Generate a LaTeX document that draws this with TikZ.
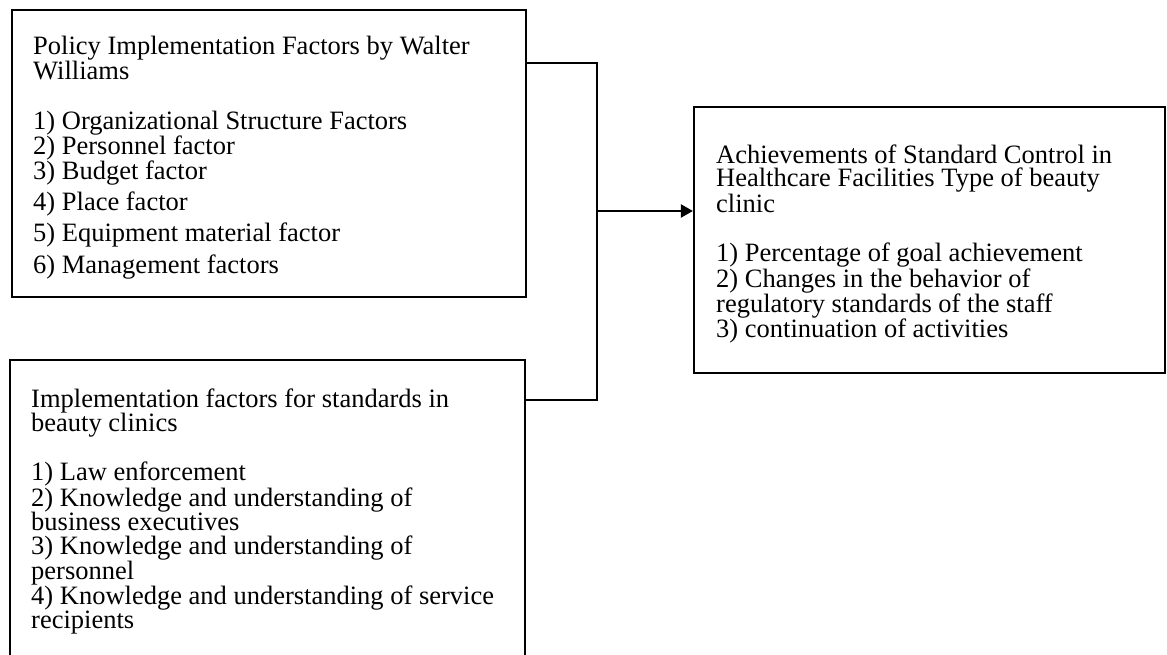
\documentclass[tikz,border=0pt]{standalone}
\usepackage{fontspec}
\setmainfont{Liberation Serif}
\usetikzlibrary{arrows.meta}
\tikzset{
  box/.style={draw=black, line width=2.2pt, rectangle, inner sep=0pt},
  boxtext/.style={anchor=north west, align=left, inner sep=0pt},
  conn/.style={draw=black, line width=2.2pt},
  arrowconn/.style={conn, -{Triangle[length=12pt,width=13pt]}}
}
\begin{document}
\begin{tikzpicture}[x=1pt,y=-1pt]
\useasboundingbox (0,0) rectangle (1167,655);
\clip (0,0) rectangle (1167,655);
% boxes
\node[box, minimum width=514pt, minimum height=287pt] (b1) at (269,153.5) {};
\node[box, minimum width=515pt, minimum height=340pt] (b2) at (267.5,530) {};
\node[box, minimum width=471pt, minimum height=266pt] (b3) at (929.5,240) {};
% texts
\node[boxtext, font={\fontsize{26.5}{24}\selectfont}] (t1) at (33,34) {\rule{0pt}{20pt}Policy Implementation Factors by Walter\\
Williams\\[26pt]
1) Organizational Structure Factors\\
2) Personnel factor\\
3) Budget factor\\[5pt]
4) Place factor\\[6pt]
5) Equipment material factor\\[7pt]
6) Management factors};
\node[boxtext, font={\fontsize{26.5}{24.3}\selectfont}] (t2) at (31,387) {\rule{0pt}{20pt}Implementation factors for standards in\\
beauty clinics\\[24pt]
1) Law enforcement\\
2) Knowledge and understanding of\\
business executives\\
3) Knowledge and understanding of\\
personnel\\
4) Knowledge and understanding of service\\
recipients};
\node[boxtext, font={\fontsize{26.5}{23.7}\selectfont}] (t3) at (716,143) {\rule{0pt}{20pt}Achievements of Standard Control in\\
Healthcare Facilities Type of beauty\\
clinic\\[26pt]
1) Percentage of goal achievement\\
2) Changes in the behavior of\\
regulatory standards of the staff\\
3) continuation of activities};
% connectors
\coordinate (j1) at (597,63);
\coordinate (j2) at (597,400);
\coordinate (j3) at (597,211);
\draw[conn] (b1.east |- j1) -- (j1) -- (j2) -- (b2.east |- j2);
\draw[arrowconn] (j3) -- (b3.west |- j3);
\end{tikzpicture}
\end{document}
